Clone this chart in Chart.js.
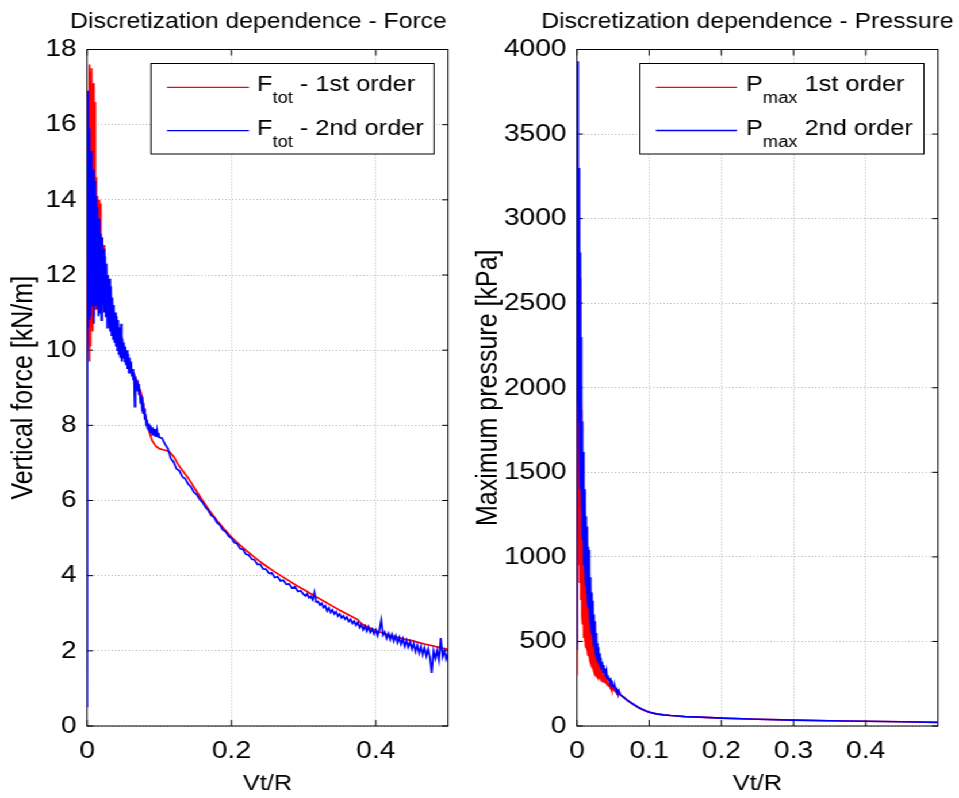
<!DOCTYPE html>
<html>
<head>
<meta charset="utf-8">
<title>Discretization dependence</title>
<script src="https://cdn.jsdelivr.net/npm/chart.js@4.4.1/dist/chart.umd.min.js"></script>
<style>
  html, body { margin: 0; padding: 0; background: #fff; overflow: hidden; }
  #stage { position: absolute; left: 0; top: 0; width: 834px; height: 798px;
           transform: scaleX(1.1499); transform-origin: 0 0; }
  #stage canvas { position: absolute; left: 0; top: 0; }
</style>
</head>
<body>
<div id="stage">
  <canvas id="forceChart" width="834" height="798"></canvas>
  <canvas id="pressureChart" width="834" height="798"></canvas>
</div>
<script>
// ---------------------------------------------------------------------------
// Tick positions
// ---------------------------------------------------------------------------
const forceTicksX = [0, 0.2, 0.4];
const forceTicksY = [0, 2, 4, 6, 8, 10, 12, 14, 16, 18];
const pressureTicksX = [0, 0.1, 0.2, 0.3, 0.4];
const pressureTicksY = [0, 500, 1000, 1500, 2000, 2500, 3000, 3500, 4000];

// ---------------------------------------------------------------------------
// Vertical force [kN/m] against Vt/R
// ---------------------------------------------------------------------------
// 1st order: start-up transient, one sample every 0.0005 from Vt/R = 0 to 0.02
const force1stStart = [10.0, 12.5, 10.6, 14.2, 10.2, 15.8, 9.7, 17.6, 10.4, 17.4,
  10.1, 16.9, 10.8, 17.5, 11.0, 16.2, 10.5, 17.1, 11.2, 15.8,
  10.9, 16.6, 11.4, 14.3, 11.1, 14.6, 11.7, 13.8, 11.5, 14.1,
  11.9, 13.6, 11.6, 14.0, 12.0, 13.4, 11.8, 13.9, 12.1, 13.1, 11.9];
// 1st order: one sample every 0.001 from 0.021 to 0.050
const force1stMid = [13.0, 12.0, 12.8, 11.7, 12.3, 11.4, 12.0, 11.2, 11.8, 11.0,
  11.6, 10.9, 11.3, 10.8, 11.2, 10.7, 11.0, 10.6, 10.9, 10.5,
  10.8, 10.4, 10.6, 10.3, 10.5, 10.2, 10.35, 10.1, 10.2, 10.0];
// 1st order: smooth decay
const force1stTailX = [0.055, 0.06, 0.065, 0.07, 0.075, 0.08, 0.085, 0.09, 0.095, 0.1,
  0.105, 0.11, 0.115, 0.12, 0.125, 0.13, 0.14, 0.15, 0.16, 0.17, 0.18, 0.19, 0.2,
  0.21, 0.22, 0.23, 0.24, 0.25, 0.26, 0.27, 0.28, 0.29, 0.3, 0.31, 0.32, 0.33, 0.34,
  0.35, 0.36, 0.37, 0.375, 0.38, 0.39, 0.4, 0.41, 0.42, 0.43, 0.44, 0.45, 0.46, 0.47,
  0.48, 0.49, 0.5];
const force1stTail = [9.8, 9.55, 9.35, 9.15, 8.85, 8.35, 7.9, 7.6, 7.45, 7.38,
  7.35, 7.33, 7.28, 7.17, 7.0, 6.85, 6.6, 6.3, 6.0, 5.72, 5.47, 5.24, 5.03,
  4.85, 4.68, 4.52, 4.37, 4.23, 4.1, 3.98, 3.86, 3.74, 3.63, 3.52, 3.41, 3.3, 3.19,
  3.08, 2.98, 2.88, 2.83, 2.72, 2.62, 2.54, 2.47, 2.41, 2.36, 2.31, 2.27, 2.22, 2.17,
  2.13, 2.08, 2.04];

// 2nd order: one sample every 0.0005 from 0 to 0.02
const force2ndStart = [0.5, 16.9, 10.6, 16.2, 11.0, 15.6, 10.8, 15.9, 11.3, 15.2,
  10.9, 14.9, 11.5, 15.3, 11.2, 14.6, 11.6, 14.8, 11.0, 14.2,
  10.7, 14.5, 11.4, 13.9, 11.2, 14.1, 11.5, 13.6, 11.1, 13.8,
  11.3, 13.2, 10.9, 13.5, 11.2, 12.9, 11.0, 13.1, 11.3, 12.7, 10.8];
// 2nd order: one sample every 0.001 from 0.021 to 0.100
const force2ndMid = [13.0, 11.2, 12.7, 11.0, 12.5, 10.9, 12.3, 10.6, 12.0, 10.7,
  11.9, 10.5, 11.7, 10.4, 11.4, 10.3, 11.2, 10.2, 11.0, 10.1,
  10.9, 10.0, 10.8, 9.9, 10.6, 9.8, 10.7, 9.7, 10.3, 9.8,
  10.2, 9.7, 10.1, 9.6, 10.0, 9.5, 9.9, 9.4, 9.8, 9.4,
  9.7, 9.3, 9.5, 9.2, 9.4, 8.5, 9.3, 9.0, 9.2, 8.9,
  9.1, 8.8, 8.95, 8.6, 8.8, 8.5, 8.6, 8.3, 8.45, 8.15,
  8.3, 8.0, 8.15, 7.9, 8.05, 7.85, 8.0, 7.8, 7.95, 7.75,
  7.95, 7.75, 7.9, 7.7, 7.9, 7.7, 7.85, 7.7, 7.8, 7.68];
// 2nd order: one sample every 0.004 from 0.104 to 0.300
const force2ndLate = [7.66, 7.5, 7.38, 7.12, 7.02, 6.84, 6.79, 6.63, 6.58, 6.44,
  6.36, 6.22, 6.16, 6.03, 5.95, 5.82, 5.74, 5.6, 5.55, 5.41,
  5.35, 5.22, 5.17, 5.05, 5.0, 4.88, 4.85, 4.72, 4.7, 4.57,
  4.55, 4.44, 4.42, 4.3, 4.3, 4.18, 4.17, 4.06, 4.07, 3.95,
  3.97, 3.86, 3.88, 3.77, 3.78, 3.67, 3.7, 3.58, 3.6, 3.5];
// 2nd order: one sample every 0.0025 from 0.3025 to 0.500
const force2ndEnd = [3.46, 3.52, 3.41, 3.45, 3.36, 3.56, 3.3, 3.31, 3.22, 3.27,
  3.15, 3.2, 3.06, 3.14, 3.02, 3.09, 2.98, 3.04, 2.92, 2.98,
  2.88, 2.93, 2.84, 2.9, 2.78, 2.84, 2.73, 2.79, 2.68, 2.76,
  2.62, 2.7, 2.56, 2.66, 2.52, 2.64, 2.49, 2.58, 2.45, 2.56,
  2.4, 2.55, 2.82, 2.42, 2.5, 2.33, 2.46, 2.3, 2.44, 2.26,
  2.4, 2.22, 2.36, 2.18, 2.32, 2.12, 2.28, 2.1, 2.24, 2.05,
  2.2, 1.98, 2.15, 1.94, 2.12, 1.9, 2.08, 1.86, 2.05, 1.82,
  1.41, 2.0, 1.8, 2.02, 1.76, 2.34, 1.84, 2.0, 1.78, 1.95];

// ---------------------------------------------------------------------------
// Maximum pressure [kPa] against Vt/R
// ---------------------------------------------------------------------------
// 1st order: one sample every 0.0005 from 0 to 0.03
const pressure1stStart = [300, 1900, 1300, 2400, 1100, 2200, 950, 2750, 850, 1700,
  2650, 750, 1500, 1870, 650, 1250, 600, 1050, 560, 980,
  520, 920, 500, 880, 480, 850, 460, 820, 445, 790,
  430, 760, 415, 730, 400, 700, 390, 670, 375, 640,
  365, 610, 350, 585, 340, 560, 330, 530, 320, 505,
  312, 480, 305, 460, 298, 440, 292, 420, 286, 400, 280];
// 1st order: one sample every 0.001 from 0.031 to 0.060
const pressure1stMid = [370, 275, 345, 268, 325, 262, 305, 256, 290, 250,
  275, 243, 262, 236, 250, 230, 240, 222, 230, 215,
  220, 207, 212, 200, 204, 194, 197, 188, 190, 182];
// 2nd order: one sample every 0.0005 from 0 to 0.03
const pressure2ndStart = [450, 3930, 2400, 3700, 1900, 3300, 1800, 3150, 1650, 2800,
  1400, 2300, 1300, 2050, 1200, 1800, 1100, 1620, 1000, 1500,
  950, 1400, 900, 1330, 860, 1240, 820, 1180, 780, 1120,
  740, 1060, 700, 1040, 660, 940, 630, 880, 600, 830,
  570, 790, 540, 740, 520, 700, 490, 660, 470, 620,
  450, 590, 430, 550, 410, 520, 395, 490, 380, 465, 365];
// 2nd order: one sample every 0.001 from 0.031 to 0.060
const pressure2ndMid = [430, 350, 405, 335, 380, 320, 360, 305, 340, 292,
  320, 280, 300, 268, 285, 255, 268, 245, 255, 235,
  242, 222, 230, 212, 218, 202, 208, 194, 198, 186];
// both orders: slow decay
const pressureTailX = [0.065, 0.07, 0.075, 0.08, 0.085, 0.09, 0.095, 0.1, 0.11, 0.12,
  0.13, 0.15, 0.17, 0.2, 0.25, 0.3, 0.35, 0.4, 0.45, 0.5];
const pressure1stTail = [172, 150, 136, 122, 109, 98, 89, 81, 72, 66,
  62, 56, 52, 46, 40, 35, 31, 28, 25, 22];
const pressure2ndTail = [168, 152, 138, 124, 111, 100, 90, 82, 72, 66,
  62, 56, 52, 46, 40, 35, 31, 28, 25, 22];

// Legend texts: symbol, subscript, remainder
const forceLegend = [['F', 'tot', ' - 1st order'], ['F', 'tot', ' - 2nd order']];
const pressureLegend = [['P', 'max', ' 1st order'], ['P', 'max', ' 2nd order']];

// ---------------------------------------------------------------------------
// Helpers
// ---------------------------------------------------------------------------
const FONT = "'Liberation Sans', Arial, Helvetica, sans-serif";
const SX = 1.1499;          // horizontal stretch of the stage
const RED = '#ff0000';
const BLUE = '#0000ff';

function sampled(x0, dx, ys) {
  return ys.map((y, i) => ({ x: +(x0 + i * dx).toFixed(5), y }));
}
function paired(xs, ys) {
  return xs.map((x, i) => ({ x, y: ys[i] }));
}

// Axes box with inward tick marks on all four sides
const frameTicks = {
  id: 'frameTicks',
  beforeDatasetsDraw(chart) {
    const { ctx, chartArea: a, scales: { x, y } } = chart;
    const len = 6;
    ctx.save();
    ctx.strokeStyle = '#000';
    ctx.lineWidth = 1;
    ctx.beginPath();
    x.ticks.forEach(t => {
      const px = x.getPixelForValue(t.value);
      ctx.moveTo(px, a.bottom); ctx.lineTo(px, a.bottom - len);
      ctx.moveTo(px, a.top); ctx.lineTo(px, a.top + len);
    });
    y.ticks.forEach(t => {
      const py = y.getPixelForValue(t.value);
      ctx.moveTo(a.left, py); ctx.lineTo(a.left + len / SX, py);
      ctx.moveTo(a.right, py); ctx.lineTo(a.right - len / SX, py);
    });
    ctx.stroke();
    ctx.strokeRect(a.left, a.top, a.right - a.left, a.bottom - a.top);
    ctx.restore();
  }
};

// Panel title and boxed legend with subscripted symbols
const panelDecor = {
  id: 'panelDecor',
  afterDatasetsDraw(chart, args, o) {
    const ctx = chart.ctx;
    ctx.save();
    // title
    ctx.fillStyle = '#000';
    ctx.font = `21.5px ${FONT}`;
    ctx.textAlign = 'center';
    ctx.textBaseline = 'alphabetic';
    ctx.fillText(o.title, o.titleX, 28);
    // legend box
    const [bx, by, bw, bh] = o.box;
    ctx.fillStyle = '#fff';
    ctx.fillRect(bx, by, bw, bh);
    ctx.strokeStyle = '#000';
    ctx.lineWidth = 1;
    ctx.strokeRect(bx, by, bw, bh);
    ctx.textAlign = 'left';
    chart.data.datasets.forEach((ds, i) => {
      const lineY = o.rowY[i];
      const base = o.rowBase[i];
      ctx.strokeStyle = ds.borderColor;
      ctx.lineWidth = 1.3;
      ctx.beginPath();
      ctx.moveTo(o.lineX[0], lineY);
      ctx.lineTo(o.lineX[1], lineY);
      ctx.stroke();
      const [sym, sub, rest] = o.entries[i];
      let tx = o.textX;
      ctx.fillStyle = '#000';
      ctx.font = `22px ${FONT}`;
      ctx.fillText(sym, tx, base);
      tx += ctx.measureText(sym).width;
      ctx.font = `16px ${FONT}`;
      ctx.fillText(sub, tx, base + 12);
      tx += ctx.measureText(sub).width;
      ctx.font = `22px ${FONT}`;
      ctx.fillText(rest, tx, base);
    });
    ctx.restore();
  }
};

function makePanel(id, p) {
  return new Chart(document.getElementById(id), {
    type: 'line',
    data: {
      datasets: [
        { label: p.labels[0], data: p.series[0], borderColor: RED, order: 1 },
        { label: p.labels[1], data: p.series[1], borderColor: BLUE, order: 0 }
      ]
    },
    options: {
      responsive: false,
      animation: false,
      devicePixelRatio: 1,
      events: [],
      layout: { padding: { left: p.padLeft, right: p.padRight, top: 49.5, bottom: 0 } },
      elements: {
        line: { borderWidth: 1.7, tension: 0, fill: false },
        point: { radius: 0 }
      },
      plugins: {
        legend: { display: false },
        tooltip: { enabled: false },
        panelDecor: p.decor
      },
      scales: {
        x: {
          type: 'linear', min: 0, max: 0.5,
          afterBuildTicks: s => { s.ticks = p.ticksX.map(v => ({ value: v })); },
          afterFit: s => { s.height = 72; },
          ticks: { font: { family: FONT, size: 24.5 }, color: '#000', padding: 11,
                   maxRotation: 0, minRotation: 0, autoSkip: false, callback: v => String(v) },
          grid: { color: '#b4b4b4', lineWidth: 1, drawTicks: false },
          border: { display: false, dash: [1, 2] },
          title: { display: true, text: 'Vt/R', color: '#000',
                   font: { family: FONT, size: 22 }, padding: { top: 0, bottom: 1 } }
        },
        y: {
          type: 'linear', min: 0, max: p.yMax,
          afterBuildTicks: s => { s.ticks = p.ticksY.map(v => ({ value: v })); },
          afterFit: s => { s.width = p.yWidth; },
          ticks: { font: { family: FONT, size: 24.5 }, color: '#000', padding: 9,
                   autoSkip: false, callback: v => String(v) },
          grid: { color: '#b4b4b4', lineWidth: 1, drawTicks: false },
          border: { display: false, dash: [1, 2] },
          title: { display: true, text: p.yTitle, color: '#000',
                   font: { family: FONT, size: 25 }, padding: { top: 0, bottom: 0 } }
        }
      }
    },
    plugins: [frameTicks, panelDecor]
  });
}

// ---------------------------------------------------------------------------
// Force panel
// ---------------------------------------------------------------------------
makePanel('forceChart', {
  labels: ['Ftot - 1st order', 'Ftot - 2nd order'],
  series: [
    [...sampled(0, 0.0005, force1stStart), ...sampled(0.021, 0.001, force1stMid),
     ...paired(force1stTailX, force1stTail)],
    [...sampled(0, 0.0005, force2ndStart), ...sampled(0.021, 0.001, force2ndMid),
     ...sampled(0.104, 0.004, force2ndLate), ...sampled(0.3025, 0.0025, force2ndEnd)]
  ],
  ticksX: forceTicksX, ticksY: forceTicksY, yMax: 18,
  yTitle: 'Vertical force [kN/m]',
  padLeft: 5.9, yWidth: 69.8, padRight: 444.4,
  decor: {
    title: 'Discretization dependence - Force', titleX: 224.8,
    box: [131.3, 63.5, 246.1, 90.5],
    lineX: [145.2, 216.5], rowY: [87.3, 130.7], rowBase: [91, 134.5],
    textX: 223.5, entries: forceLegend
  }
});

// ---------------------------------------------------------------------------
// Pressure panel
// ---------------------------------------------------------------------------
makePanel('pressureChart', {
  labels: ['Pmax 1st order', 'Pmax 2nd order'],
  series: [
    [...sampled(0, 0.0005, pressure1stStart), ...sampled(0.031, 0.001, pressure1stMid),
     ...paired(pressureTailX, pressure1stTail)],
    [...sampled(0, 0.0005, pressure2ndStart), ...sampled(0.031, 0.001, pressure2ndMid),
     ...paired(pressureTailX, pressure2ndTail)]
  ],
  ticksX: pressureTicksX, ticksY: pressureTicksY, yMax: 4000,
  yTitle: 'Maximum pressure [kPa]',
  padLeft: 410.2, yWidth: 91.5, padRight: 18.3,
  decor: {
    title: 'Discretization dependence - Pressure', titleX: 650,
    box: [556.5, 63.5, 247, 90.5],
    lineX: [570.4, 640.9], rowY: [87.3, 130.5], rowBase: [91, 134.5],
    textX: 648.7, entries: pressureLegend
  }
});
</script>
</body>
</html>
